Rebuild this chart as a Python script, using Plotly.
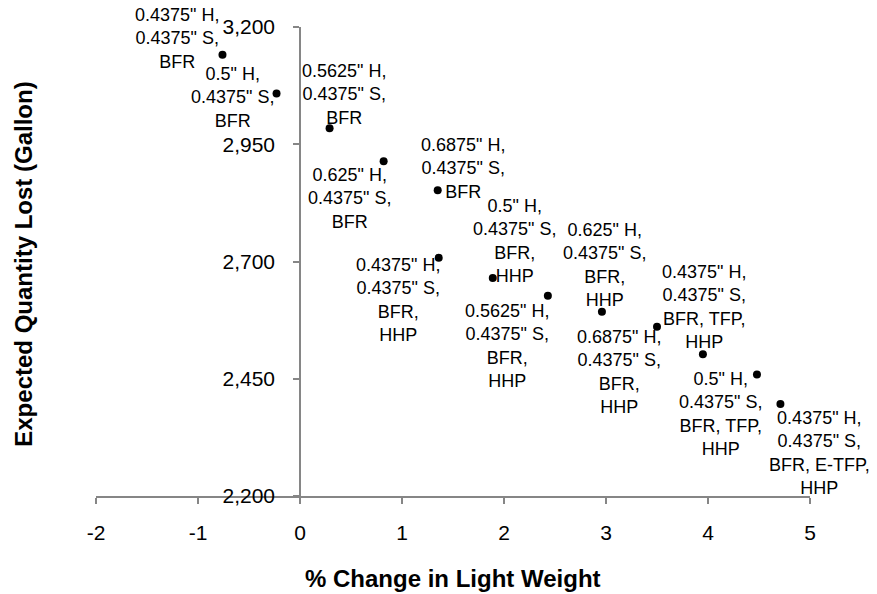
import plotly.graph_objects as go

# ---- data ----
pct_change = [-0.76, -0.23, 0.29, 0.82, 1.35, 1.36, 1.89, 2.43, 2.96, 3.50, 3.95, 4.48, 4.71]
qty_lost = [3141, 3058, 2984, 2914, 2852, 2708, 2665, 2627, 2593, 2561, 2502, 2459, 2396]
point_labels = [
    '0.4375" H,<br>0.4375" S,<br>BFR',
    '0.5" H,<br>0.4375" S,<br>BFR',
    '0.5625" H,<br>0.4375" S,<br>BFR',
    '0.625" H,<br>0.4375" S,<br>BFR',
    '0.6875" H,<br>0.4375" S,<br>BFR',
    '0.4375" H,<br>0.4375" S,<br>BFR,<br>HHP',
    '0.5" H,<br>0.4375" S,<br>BFR,<br>HHP',
    '0.5625" H,<br>0.4375" S,<br>BFR,<br>HHP',
    '0.625" H,<br>0.4375" S,<br>BFR,<br>HHP',
    '0.6875" H,<br>0.4375" S,<br>BFR,<br>HHP',
    '0.4375" H,<br>0.4375" S,<br>BFR, TFP,<br>HHP',
    '0.5" H,<br>0.4375" S,<br>BFR, TFP,<br>HHP',
    '0.4375" H,<br>0.4375" S,<br>BFR, E-TFP,<br>HHP',
]
x_tickvals = [-2, -1, 0, 1, 2, 3, 4, 5]
x_ticktext = ["-2", "-1", "0", "1", "2", "3", "4", "5"]
y_tickvals = [2200, 2450, 2700, 2950, 3200]
y_ticktext = ["2,200", "2,450", "2,700", "2,950", "3,200"]
x_title = "% Change in Light Weight"
y_title = "Expected Quantity Lost (Gallon)"

# ---- label placement (pixel offsets from each point: right, down) ----
label_offsets = [
    (-45, -16), (-44, 4), (14, -34), (-34, 37), (25, -22),
    (-41, 42), (22, -37), (-41, 50), (3, -47), (-38, 45),
    (1, -47), (-36, 39), (39, 49),
]

FONT = "Liberation Sans, Arial, sans-serif"
AXIS_GRAY = "#868686"

fig = go.Figure()
fig.add_trace(go.Scatter(
    x=pct_change, y=qty_lost, mode="markers",
    marker=dict(color="black", size=8),
    hoverinfo="x+y", showlegend=False,
))

annotations = []
for xv, yv, txt, (dx, dy) in zip(pct_change, qty_lost, point_labels, label_offsets):
    annotations.append(dict(
        x=xv, y=yv, xref="x", yref="y", text=txt, showarrow=False,
        xshift=dx, yshift=-dy, xanchor="center", yanchor="middle",
        align="center", font=dict(family=FONT, size=18, color="black"),
    ))

annotations.append(dict(
    x=0.5, y=-0.175, xref="paper", yref="paper", text="<b>%s</b>" % x_title,
    showarrow=False, xanchor="center", yanchor="middle",
    font=dict(family=FONT, size=24, color="black"),
))
annotations.append(dict(
    x=-0.101, y=0.495, xref="paper", yref="paper", text="<b>%s</b>" % y_title,
    showarrow=False, xanchor="center", yanchor="middle", textangle=-90,
    font=dict(family=FONT, size=24, color="black"),
))

fig.update_layout(
    width=877, height=594,
    margin=dict(l=96, r=67, t=27, b=98),
    paper_bgcolor="white", plot_bgcolor="white",
    font=dict(family=FONT, color="black"),
    annotations=annotations,
    xaxis=dict(
        range=[-2, 5], tickvals=x_tickvals, ticktext=x_ticktext,
        showgrid=False, zeroline=False, showline=True,
        linecolor=AXIS_GRAY, linewidth=1.5,
        ticks="outside", ticklen=6, tickwidth=1.5, tickcolor=AXIS_GRAY,
        tickfont=dict(family=FONT, size=21, color="black"),
        ticklabelstandoff=11,
    ),
    yaxis=dict(
        range=[2200, 3200], tickvals=y_tickvals, ticktext=y_ticktext,
        anchor="free", position=2 / 7, side="left",
        showgrid=False, zeroline=False, showline=True,
        linecolor=AXIS_GRAY, linewidth=1.5,
        ticks="outside", ticklen=6, tickwidth=1.5, tickcolor=AXIS_GRAY,
        tickfont=dict(family=FONT, size=21, color="black"),
        ticklabelstandoff=14,
    ),
)

fig.write_html("out.html")
